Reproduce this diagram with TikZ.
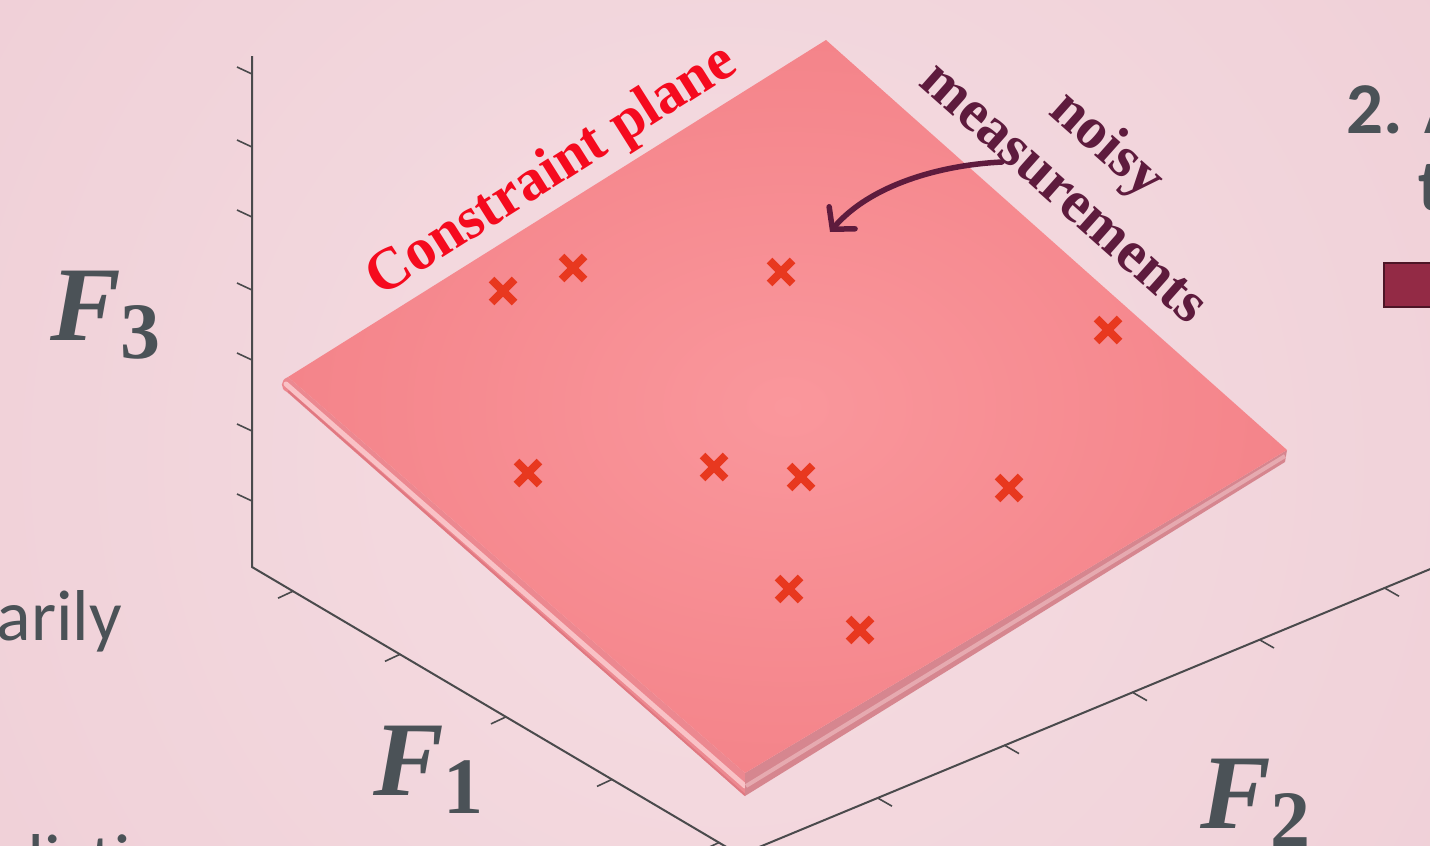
\documentclass[tikz,border=0pt]{standalone}
\usepackage{fontspec}
\setmainfont{Liberation Serif}
\newfontfamily\labsans{Carlito}
\usetikzlibrary{shapes.misc,arrows.meta}
\definecolor{bgpink}{HTML}{EFCED6}
\definecolor{bglight}{HTML}{F5DDE2}
\definecolor{planeC}{HTML}{FA979C}
\definecolor{planeE}{HTML}{F4848A}
\definecolor{sideL}{HTML}{EC8890}
\definecolor{sideLhi}{HTML}{F9C2C6}
\definecolor{sideLdk}{HTML}{E07881}
\definecolor{sideR}{HTML}{D6868F}
\definecolor{sideRhi}{HTML}{E6AAB0}
\definecolor{xred}{HTML}{E8381F}
\definecolor{cred}{HTML}{F50A1E}
\definecolor{maroon}{HTML}{5E1B3D}
\definecolor{txtgray}{HTML}{4B5257}
\definecolor{axgray}{HTML}{4A4A4C}
\definecolor{boxred}{HTML}{932A45}
\definecolor{boxedge}{HTML}{4D1526}
\newcommand\Flab[1]{\fontsize{106}{106}\selectfont\bfseries\itshape F\upshape\raisebox{-18pt}{\fontsize{80}{80}\selectfont #1}}
\tikzset{
  axisline/.style={draw=axgray, line width=2pt},
  tickline/.style={draw=axgray, line width=1.6pt},
  xmark/.style={cross out, draw=xred, line width=8pt, minimum size=15pt, inner sep=0pt},
  flabel/.style={anchor=base west, inner sep=0pt, text=txtgray},
  sanstext/.style={anchor=base west, inner sep=0pt, text=txtgray, font=\labsans\fontsize{72}{72}\selectfont},
  planetext/.style={inner sep=0pt, font=\bfseries\fontsize{59}{65}\selectfont},
}
\begin{document}
\begin{tikzpicture}[x=1pt,y=-1pt]
\clip (0,0) rectangle (1430,846);
\useasboundingbox (0,0) rectangle (1430,846);
% background
\fill[bgpink] (0,0) rectangle (1430,846);
\shade[inner color=bglight, outer color=bgpink] (730,460) circle (1000);
% axes
\draw[axisline] (252,56) -- (252,567) -- (740,855);
\draw[axisline] (740,855) -- (1440,565);
\foreach \y in {74,147,217,290,360,431,501}
  \draw[tickline] (252,\y) -- ++(-15,-7);
\foreach \x in {293,400,506,612,719}
  \draw[tickline] (\x,{567+0.59*(\x-252)}) -- ++(-15,7);
\foreach \x in {878,1005,1133,1260,1385}
  \draw[tickline] (\x,{640-0.414*(\x-1260)}) -- ++(14,8);
% plane sides
\fill[sideL] (288,377) -- (745,773) -- (745,796) -- (287,392) .. controls (280,389) and (280,380) .. (288,377) -- cycle;
\draw[sideLhi, line width=5pt, line cap=round] (286,384) -- (745,786);
\draw[sideLdk, line width=2pt] (288,391) -- (745,795);
\fill[sideR] (745,773) -- (1287,450) -- (1285,462) -- (745,796) -- cycle;
\draw[sideRhi, line width=4pt] (746,786) -- (1285,456);
% top face
\shade[inner color=planeC, outer color=planeE] (826,40) -- (1287,450) -- (745,773) -- (288,377) -- cycle;
% crosses
\node[xmark] (c1) at (503,291) {};
\node[xmark] (c2) at (573,268) {};
\node[xmark] (c3) at (781,272) {};
\node[xmark] (c4) at (1108,330) {};
\node[xmark] (c5) at (528,473) {};
\node[xmark] (c6) at (714,467) {};
\node[xmark] (c7) at (801,477) {};
\node[xmark] (c8) at (1009,488) {};
\node[xmark] (c9) at (789,589) {};
\node[xmark] (c10) at (860,630) {};
% plane labels
\node[planetext, text=cred, rotate=32.3, anchor=base] (cp) at (560,184) {Constraint plane};
\node[planetext, text=maroon, rotate=-41.6, align=center] (nm) at (1088,166) {noisy\\measurements};
\coordinate (arrS) at (1002,162);
\coordinate (arrE) at (830,232);
\draw[maroon, line width=5.5pt, line cap=round, -{Straight Barb[length=15pt,width=34pt,line cap=round]}] (arrS) .. controls (940,165) and (870,185) .. (arrE);
% axis labels
\node[flabel] (f3) at (50,340) {\Flab{3}};
\node[flabel] (f1) at (373,795) {\Flab{1}};
\node[flabel] (f2) at (1200,828) {\Flab{2}};
% side texts
\node[sanstext, font=\labsans\bfseries\fontsize{73}{73}\selectfont] (t2a) at (1346,133) {2. A};
\node[sanstext, font=\labsans\bfseries\fontsize{73}{73}\selectfont] (t2b) at (1418,210) {t};
\node[sanstext, anchor=base east] (ar) at (122,640) {arily};
\node[sanstext] (di) at (6,884) {diction};
\node[draw=boxedge, line width=2pt, fill=boxred, minimum width=60pt, minimum height=44pt, inner sep=0pt, anchor=north west] (rb) at (1383,262) {};
\end{tikzpicture}
\end{document}
